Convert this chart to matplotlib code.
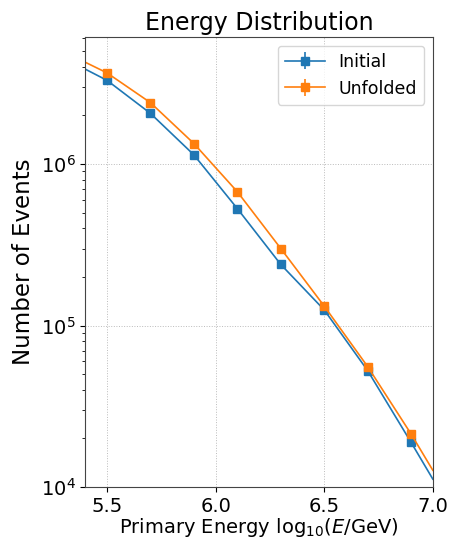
import matplotlib
matplotlib.use('Agg')
import matplotlib.pyplot as plt
import numpy as np

# bin centers (log10 E / GeV)
energy = [5.5, 5.7, 5.9, 6.1, 6.3, 6.5, 6.7, 6.9]
initial = [3.3e6, 2.06e6, 1.14e6, 5.3e5, 2.39e5, 1.25e5, 5.26e4, 1.89e4]
unfolded = [3.67e6, 2.40e6, 1.34e6, 6.74e5, 3.0e5, 1.32e5, 5.57e4, 2.13e4]

# line continues to the axis edges
edge_x = [5.4, 7.0]
initial_edges = [3.87e6, 1.12e4]
unfolded_edges = [4.27e6, 1.27e4]

fig = plt.figure(figsize=(4.49, 5.4), dpi=100)
ax = fig.add_axes([0.19, 0.098, 0.774, 0.833])

series = [
    ('Initial', initial, initial_edges, 'tab:blue'),
    ('Unfolded', unfolded, unfolded_edges, 'tab:orange'),
]
for label, counts, edges, color in series:
    x = [edge_x[0]] + energy + [edge_x[1]]
    y = [edges[0]] + counts + [edges[1]]
    yerr = [0] + list(np.sqrt(counts) * 3) + [0]
    ax.errorbar(x, y, yerr=yerr, fmt='-s', color=color, markersize=6,
                linewidth=1.2, markevery=slice(1, -1), label=label)

ax.set_yscale('log')
ax.set_xlim(5.4, 7.0)
ax.set_ylim(1e4, 6.1e6)
ax.set_xticks([5.5, 6.0, 6.5, 7.0])
ax.grid(True, which='major', linestyle=':', color='#bbbbbb', linewidth=0.7)
ax.tick_params(labelsize=14)
for s in ax.spines.values():
    s.set_color('#444444')
ax.set_title('Energy Distribution', fontsize=17, pad=5)
ax.set_xlabel(r'Primary Energy $\mathrm{log}_{10}(E/\mathrm{GeV})$', fontsize=14, labelpad=0)
ax.set_ylabel('Number of Events', fontsize=16.5, labelpad=4)
ax.legend(loc='upper right', fontsize=12.5, handlelength=2.3)

fig.savefig('out.png', dpi=100)
